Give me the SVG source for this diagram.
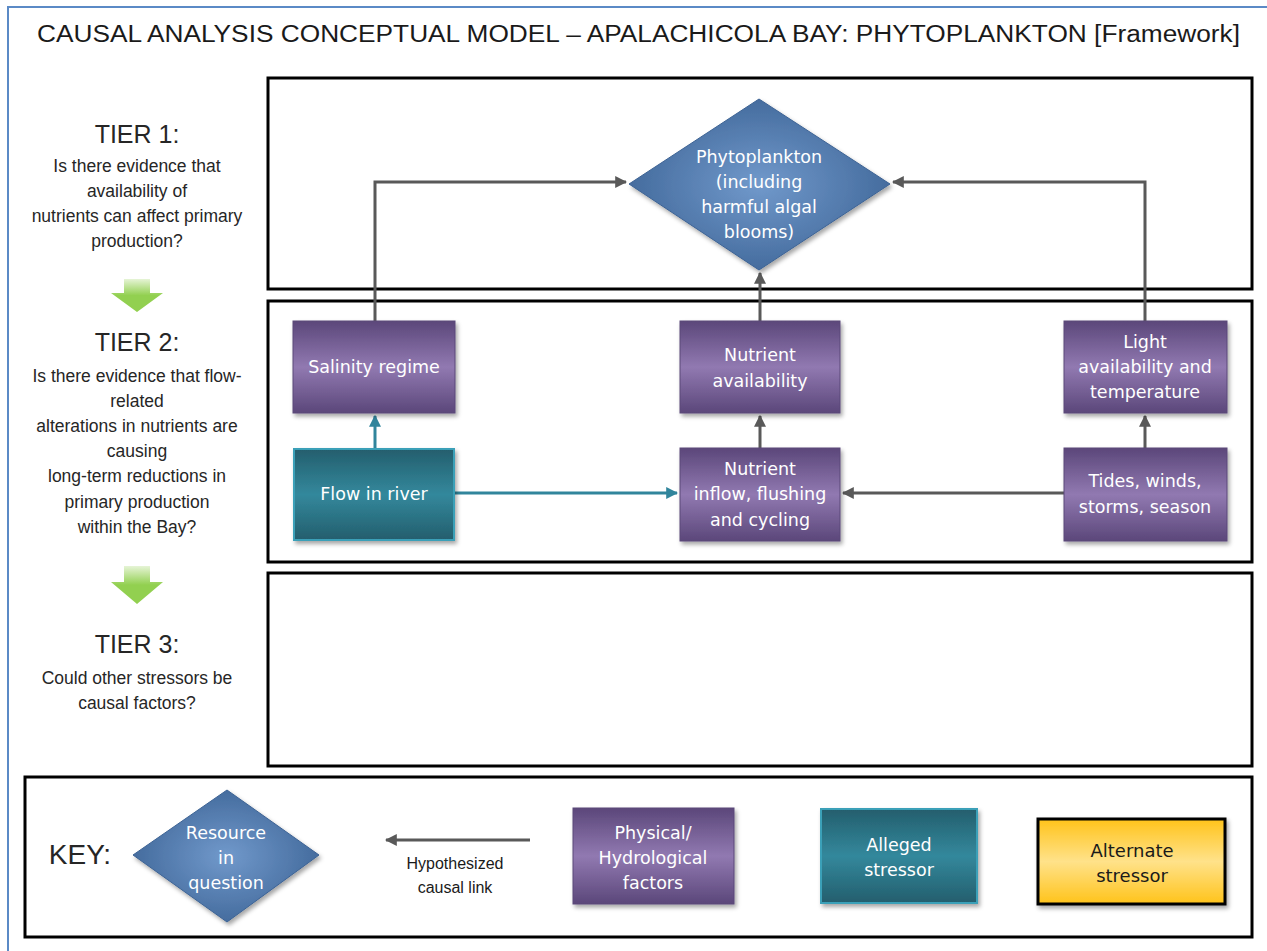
<svg xmlns="http://www.w3.org/2000/svg" width="1267" height="951" viewBox="0 0 1267 951">
<style>
.tier{fill:none;stroke:#000;stroke-width:3}
.title{font-family:"Liberation Sans",Arial,sans-serif;font-size:23px;fill:#1a1a1a}
.th{font-family:"Liberation Sans",Arial,sans-serif;font-size:25px;fill:#262626;text-anchor:middle}
.tq{font-family:"Liberation Sans",Arial,sans-serif;font-size:17.5px;fill:#262626;text-anchor:middle}
.nt{font-family:"DejaVu Sans",sans-serif;font-size:17.5px;fill:#fff;text-anchor:middle}
.kt{font-family:"DejaVu Sans",sans-serif;font-size:18px;fill:#1a1a1a;text-anchor:middle}
.kl{font-family:"Liberation Sans",Arial,sans-serif;font-size:16px;fill:#1a1a1a;text-anchor:middle}
.conn{fill:none;stroke:#595959;stroke-width:3}
.connt{fill:none;stroke:#31859C;stroke-width:3}
.purple{fill:url(#gPurple);stroke:#5a4878;stroke-width:1}
.teal{fill:url(#gTeal);stroke:#3aa0b8;stroke-width:2}
.blue{fill:url(#gBlue);stroke:#3d6394;stroke-width:1}
</style>
<defs>
<linearGradient id="gPurple" x1="0" y1="0" x2="0" y2="1">
<stop offset="0" stop-color="#5b477a"/><stop offset="0.5" stop-color="#9179b1"/><stop offset="1" stop-color="#5b477a"/>
</linearGradient>
<linearGradient id="gTeal" x1="0" y1="0" x2="0" y2="1">
<stop offset="0" stop-color="#245e6d"/><stop offset="0.5" stop-color="#33889c"/><stop offset="1" stop-color="#245e6d"/>
</linearGradient>
<radialGradient id="gBlue" cx="0.5" cy="0.5" r="0.6">
<stop offset="0" stop-color="#7199cb"/><stop offset="1" stop-color="#3c6395"/>
</radialGradient>
<linearGradient id="gYellow" x1="0" y1="0" x2="0" y2="1">
<stop offset="0" stop-color="#ffc31a"/><stop offset="0.5" stop-color="#ffe28a"/><stop offset="1" stop-color="#ffc31a"/>
</linearGradient>
<linearGradient id="gGreen" x1="0" y1="0" x2="0" y2="1">
<stop offset="0" stop-color="#e6f4d6"/><stop offset="0.5" stop-color="#92d050"/><stop offset="1" stop-color="#92d050"/>
</linearGradient>
<filter id="sh" x="-10%" y="-10%" width="130%" height="130%">
<feDropShadow dx="2" dy="3" stdDeviation="2" flood-color="#000" flood-opacity="0.35"/>
</filter>
<marker id="ag" viewBox="0 0 10 10" refX="9" refY="5" markerWidth="4" markerHeight="4" orient="auto-start-reverse" markerUnits="strokeWidth">
<path d="M0,0 L10,5 L0,10 z" fill="#595959"/>
</marker>
<marker id="at" viewBox="0 0 10 10" refX="9" refY="5" markerWidth="4" markerHeight="4" orient="auto-start-reverse" markerUnits="strokeWidth">
<path d="M0,0 L10,5 L0,10 z" fill="#31859C"/>
</marker>
</defs>
<rect x="0" y="0" width="1267" height="951" fill="#fff"/>
<rect x="8" y="7" width="1280" height="980" fill="none" stroke="#5b8ac6" stroke-width="2"/>
<text class="title" x="37" y="42" textLength="1203" lengthAdjust="spacingAndGlyphs">CAUSAL ANALYSIS  CONCEPTUAL MODEL – APALACHICOLA BAY: PHYTOPLANKTON [Framework]</text>

<g id="tiers">
<rect class="tier" x="268" y="78" width="984" height="211"/>
<rect class="tier" x="268" y="301" width="984" height="261"/>
<rect class="tier" x="268" y="573" width="984" height="193"/>
<rect class="tier" x="25" y="777" width="1227" height="160"/>
</g>

<g id="tier-labels">
<text class="th" x="137" y="143">TIER 1:</text>
<text class="tq" x="137" y="172">Is there evidence that</text>
<text class="tq" x="137" y="197">availability of</text>
<text class="tq" x="137" y="222">nutrients can affect primary</text>
<text class="tq" x="137" y="247">production?</text>
<text class="th" x="137" y="351">TIER 2:</text>
<text class="tq" x="137" y="382">Is there evidence that flow-</text>
<text class="tq" x="137" y="407">related</text>
<text class="tq" x="137" y="432">alterations in nutrients are</text>
<text class="tq" x="137" y="457">causing</text>
<text class="tq" x="137" y="482">long-term reductions in</text>
<text class="tq" x="137" y="508">primary production</text>
<text class="tq" x="137" y="533">within the Bay?</text>
<text class="th" x="137" y="653">TIER 3:</text>
<text class="tq" x="137" y="684">Could other stressors be</text>
<text class="tq" x="137" y="709">causal factors?</text>
<path d="M124,279 h26 v14 h13 l-26,19 l-26,-19 h13 z" fill="url(#gGreen)"/>
<path d="M124,566 h26 v16 h13 l-26,22 l-26,-22 h13 z" fill="url(#gGreen)"/>
</g>

<g id="connectors">
<polyline class="conn" points="375,321 375,182 626,182" marker-end="url(#ag)"/>
<polyline class="conn" points="1145,321 1145,182 893,182" marker-end="url(#ag)"/>
<line class="conn" x1="760" y1="321" x2="760" y2="273" marker-end="url(#ag)"/>
<line class="conn" x1="760" y1="448" x2="760" y2="416" marker-end="url(#ag)"/>
<line class="conn" x1="1145" y1="448" x2="1145" y2="416" marker-end="url(#ag)"/>
<line class="conn" x1="1064" y1="493" x2="843" y2="493" marker-end="url(#ag)"/>
<line class="connt" x1="455" y1="493" x2="677" y2="493" marker-end="url(#at)"/>
<line class="connt" x1="375" y1="448" x2="375" y2="416" marker-end="url(#at)"/>
</g>

<g id="phytoplankton">
<polygon class="blue" filter="url(#sh)" points="759,99 890,184 759,270 629,184"/>
<text class="nt" x="759" y="163">Phytoplankton</text>
<text class="nt" x="759" y="188">(including</text>
<text class="nt" x="759" y="213">harmful algal</text>
<text class="nt" x="759" y="238">blooms)</text>
</g>
<g id="salinity">
<rect class="purple" filter="url(#sh)" x="293" y="321" width="162" height="92"/>
<text class="nt" x="374" y="373">Salinity regime</text>
</g>
<g id="nutrient-availability">
<rect class="purple" filter="url(#sh)" x="680" y="321" width="160" height="92"/>
<text class="nt" x="760" y="361">Nutrient</text>
<text class="nt" x="760" y="387">availability</text>
</g>
<g id="light">
<rect class="purple" filter="url(#sh)" x="1064" y="321" width="163" height="92"/>
<text class="nt" x="1145" y="348">Light</text>
<text class="nt" x="1145" y="373">availability and</text>
<text class="nt" x="1145" y="398">temperature</text>
</g>
<g id="flow">
<rect class="teal" filter="url(#sh)" x="294" y="449" width="160" height="91"/>
<text class="nt" x="374" y="500">Flow in river</text>
</g>
<g id="nutrient-inflow">
<rect class="purple" filter="url(#sh)" x="680" y="448" width="160" height="93"/>
<text class="nt" x="760" y="475">Nutrient</text>
<text class="nt" x="760" y="500">inflow, flushing</text>
<text class="nt" x="760" y="526">and cycling</text>
</g>
<g id="tides">
<rect class="purple" filter="url(#sh)" x="1064" y="448" width="163" height="93"/>
<text class="nt" x="1145" y="487">Tides, winds,</text>
<text class="nt" x="1145" y="513">storms, season</text>
</g>

<g id="key">
<text class="th" x="80" y="864" style="font-size:28px">KEY:</text>
<g id="key-resource">
<polygon class="blue" filter="url(#sh)" points="227,790 319,855 227,922 133,855"/>
<text class="nt" x="226" y="839">Resource</text>
<text class="nt" x="226" y="864">in</text>
<text class="nt" x="226" y="889">question</text>
</g>
<g id="key-link">
<line class="conn" x1="530" y1="840" x2="386" y2="840" marker-end="url(#ag)"/>
<text class="kl" x="455" y="869">Hypothesized</text>
<text class="kl" x="455" y="893">causal link</text>
</g>
<g id="key-physical">
<rect class="purple" filter="url(#sh)" x="573" y="808" width="161" height="96"/>
<text class="nt" x="653" y="839">Physical/</text>
<text class="nt" x="653" y="864">Hydrological</text>
<text class="nt" x="653" y="889">factors</text>
</g>
<g id="key-alleged">
<rect class="teal" filter="url(#sh)" x="821" y="809" width="156" height="94"/>
<text class="nt" x="899" y="851">Alleged</text>
<text class="nt" x="899" y="876">stressor</text>
</g>
<g id="key-alternate">
<rect filter="url(#sh)" x="1038" y="819" width="187" height="85" fill="url(#gYellow)" stroke="#000" stroke-width="3"/>
<text class="kt" x="1132" y="857">Alternate</text>
<text class="kt" x="1132" y="882">stressor</text>
</g>
</g>
</svg>
